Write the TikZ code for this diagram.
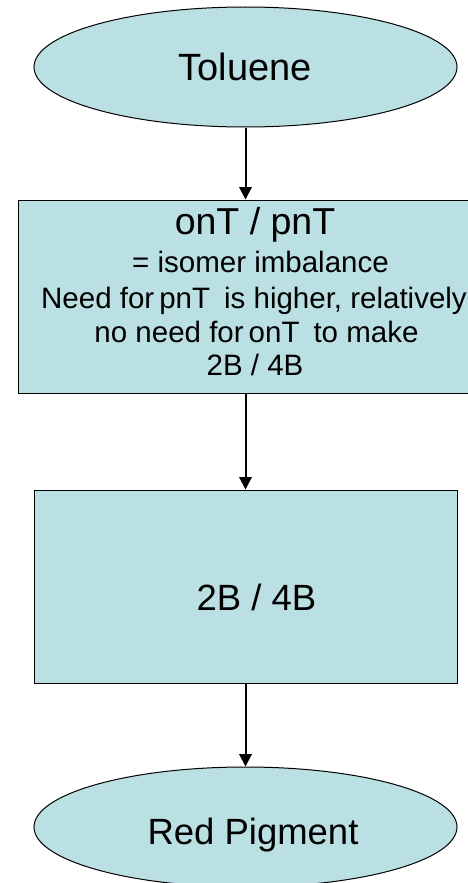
\documentclass[tikz,border=0pt]{standalone}
\usepackage{fontspec}
\setmainfont{Liberation Sans}
\usetikzlibrary{arrows.meta,shapes.geometric}
\definecolor{boxfill}{RGB}{187,224,227}
\begin{document}
\begin{tikzpicture}[x=1pt,y=-1pt,
  shapebox/.style={draw=black,line width=1pt,fill=boxfill,rectangle,inner sep=0pt},
  oval/.style={draw=black,line width=1pt,fill=boxfill,ellipse,inner sep=0pt,minimum width=423pt,minimum height=120pt},
  flow/.style={line width=2pt,-{Triangle[width=12.5pt,length=12.5pt]}},
  lbl/.style={anchor=base,inner sep=0pt,font=\fontsize{29.5}{35}\selectfont},
  biglbl/.style={anchor=base,inner sep=0pt,font=\fontsize{36.5}{42}\selectfont}]
\useasboundingbox (0,0) rectangle (467,883);
\node[oval] (tol) at (245.5,67) {};
\node[shapebox,minimum width=474pt,minimum height=193pt] (b1) at (255,296.5) {};
\node[shapebox,minimum width=423pt,minimum height=193pt] (b2) at (245.5,586.5) {};
\node[oval] (red) at (245.5,827) {};
\draw[flow] (tol.south) -- (tol.south |- b1.north);
\draw[flow] (b2.north |- b1.south) -- (b2.north);
\draw[flow] (b2.south) -- (red.north);
\node[biglbl,font=\fontsize{38}{44}\selectfont] (toltxt) at (245.3,80.5) {Toluene};
\node[lbl,font=\fontsize{37.5}{44}\selectfont] (l1) at (255,234) {onT / pnT};
\node[lbl] (l2) at (260.5,272) {= isomer imbalance};
\node[lbl] (l3) at (254,308) {Need for\hspace{5pt}pnT\hspace{14pt}is higher, relatively};
\node[lbl] (l4) at (256.5,342) {no need for\hspace{5pt}onT\hspace{14pt}to make};
\node[lbl] (l5) at (255,375) {2B / 4B};
\node[biglbl] (b2txt) at (256.5,610) {2B / 4B};
\node[biglbl] (redtxt) at (253,844) {Red Pigment};
\end{tikzpicture}
\end{document}
